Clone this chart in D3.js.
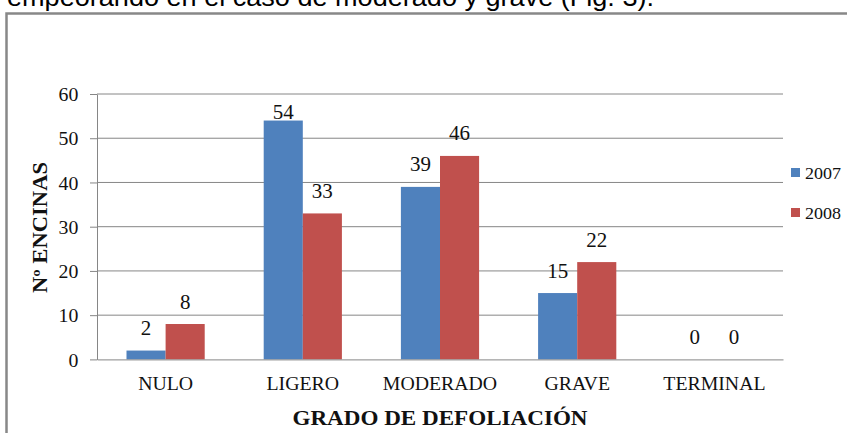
<!DOCTYPE html>
<html>
<head>
<meta charset="utf-8">
<script src="https://cdn.jsdelivr.net/npm/d3@7"></script>
<style>
  body { margin: 0; background: #fff; }
  svg { display: block; }
</style>
</head>
<body>
<svg id="chart"></svg>
<script>
// data
const categories = ["NULO", "LIGERO", "MODERADO", "GRAVE", "TERMINAL"];
const series = ["2007", "2008"];
const values2007 = [2, 54, 39, 15, 0];
const values2008 = [8, 33, 46, 22, 0];
const yTicks = [0, 10, 20, 30, 40, 50, 60];
const colors = ["#4F81BD", "#C0504D"];

const W = 847, H = 433;
const plot = { left: 97, right: 783, top: 94, bottom: 359.4 };
const SX = 1.1; // the original image is a bit wider than it is tall
const gridColor = "#868686";
const SERIF = "'Liberation Serif', 'Times New Roman', serif";

const svg = d3.select("#chart").attr("width", W).attr("height", H);

// page text cut off above the figure
svg.append("text")
  .attr("x", 7).attr("y", 6)
  .attr("font-family", "'Liberation Sans', Arial, sans-serif")
  .attr("font-size", 25)
  .attr("fill", "#000")
  .attr("textLength", 647)
  .attr("lengthAdjust", "spacingAndGlyphs")
  .text("empeorando en el caso de moderado y grave (Fig. 3).");

// frame of the chart
svg.append("rect")
  .attr("x", 6.5).attr("y", 13.5)
  .attr("width", W).attr("height", H)
  .attr("fill", "none")
  .attr("stroke", "#888")
  .attr("stroke-width", 2.5);

// scales
const x = d3.scaleBand(categories, [plot.left, plot.right])
  .paddingInner(0.43)
  .paddingOuter(0.215);
const xSub = d3.scaleBand(series, [0, x.bandwidth()]);
const y = d3.scaleLinear([0, 60], [plot.bottom, plot.top]);

// gridlines
svg.append("g")
  .selectAll("line")
  .data(yTicks.filter(d => d > 0))
  .join("line")
    .attr("x1", plot.left).attr("x2", plot.right)
    .attr("y1", d => y(d)).attr("y2", d => y(d))
    .attr("stroke", gridColor)
    .attr("stroke-width", 1);

// y axis
const yAxis = svg.append("g")
  .attr("transform", `translate(${plot.left},0)`)
  .call(d3.axisLeft(y).tickValues(yTicks).tickSize(7).tickSizeOuter(0).tickPadding(10));
yAxis.attr("font-family", SERIF);
yAxis.select(".domain").attr("stroke", gridColor);
yAxis.selectAll(".tick line").attr("stroke", gridColor);
yAxis.selectAll(".tick text")
  .attr("font-family", SERIF)
  .attr("fill", "#111")
  .attr("font-size", 18)
  .attr("dy", "0.37em")
  .attr("transform", `scale(${SX},1)`);

// bars
const rows = categories.map((c, i) => ({ cat: c, vals: [values2007[i], values2008[i]] }));

const groups = svg.append("g")
  .selectAll("g")
  .data(rows)
  .join("g")
    .attr("transform", d => `translate(${x(d.cat)},0)`);

groups.selectAll("rect")
  .data(d => d.vals.map((v, j) => ({ key: series[j], v, j })))
  .join("rect")
    .attr("x", d => xSub(d.key))
    .attr("y", d => y(d.v))
    .attr("width", xSub.bandwidth())
    .attr("height", d => y(0) - y(d.v))
    .attr("fill", d => colors[d.j]);

// value labels (kept inside the plot when they would stick out at the top)
groups.selectAll("text")
  .data(d => d.vals.map((v, j) => ({ key: series[j], v, j })))
  .join("text")
    .attr("font-family", SERIF)
    .attr("fill", "#111")
    .attr("font-size", 20)
    .attr("text-anchor", "middle")
    .attr("transform", d => {
      let by = y(d.v) - 15.5;
      if (by - 14 < plot.top) by = y(d.v) - 1.5;
      return `translate(${xSub(d.key) + xSub.bandwidth() / 2},${by}) scale(1.05,1)`;
    })
    .text(d => d.v);

// x axis
const xAxis = svg.append("g")
  .attr("transform", `translate(0,${y(0)})`)
  .call(d3.axisBottom(x).tickSize(0).tickSizeOuter(0).tickPadding(17.8));
xAxis.attr("font-family", SERIF);
xAxis.select(".domain").attr("stroke", gridColor);
xAxis.selectAll(".tick text")
  .attr("font-family", SERIF)
  .attr("fill", "#111")
  .attr("font-size", 18)
  .attr("transform", `scale(${SX},1)`);

// axis titles
svg.append("text")
  .attr("font-family", SERIF)
  .attr("fill", "#111")
  .attr("font-size", 21)
  .attr("font-weight", "bold")
  .attr("text-anchor", "middle")
  .attr("transform", `translate(${(plot.left + plot.right) / 2},425) scale(${SX},1)`)
  .text("GRADO DE DEFOLIACIÓN");

svg.append("text")
  .attr("font-family", SERIF)
  .attr("fill", "#111")
  .attr("font-size", 20)
  .attr("font-weight", "bold")
  .attr("text-anchor", "middle")
  .attr("transform", `translate(47,227.5) rotate(-90) scale(1.13,1)`)
  .text("Nº ENCINAS");

// legend
const legend = svg.append("g")
  .selectAll("g")
  .data(series)
  .join("g")
    .attr("transform", (d, i) => `translate(791,${168 + i * 40})`);

legend.append("rect")
  .attr("width", 9).attr("height", 9)
  .attr("fill", (d, i) => colors[i]);

legend.append("text")
  .attr("font-family", SERIF)
  .attr("fill", "#111")
  .attr("font-size", 17)
  .attr("transform", `translate(14,10.5) scale(1.06,1)`)
  .text(d => d);
</script>
</body>
</html>
